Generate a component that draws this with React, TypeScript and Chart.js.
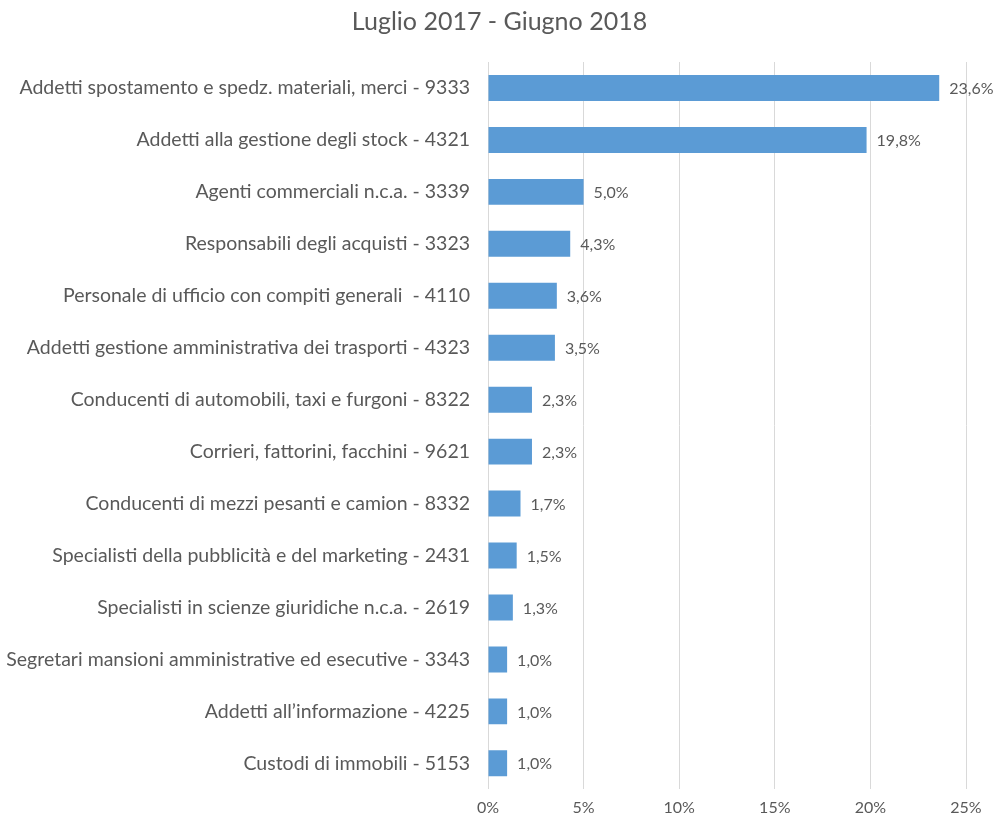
import React, { useEffect, useRef } from "react";
import { Chart, registerables } from "chart.js";

Chart.register(...registerables);

const categories: string[] = [
  "Addetti spostamento e spedz. materiali, merci - 9333",
  "Addetti alla gestione degli stock - 4321",
  "Agenti commerciali n.c.a. - 3339",
  "Responsabili degli acquisti - 3323",
  "Personale di ufficio con compiti generali  - 4110",
  "Addetti gestione amministrativa dei trasporti - 4323",
  "Conducenti di automobili, taxi e furgoni - 8322",
  "Corrieri, fattorini, facchini - 9621",
  "Conducenti di mezzi pesanti e camion - 8332",
  "Specialisti della pubblicità e del marketing - 2431",
  "Specialisti in scienze giuridiche n.c.a. - 2619",
  "Segretari mansioni amministrative ed esecutive - 3343",
  "Addetti all’informazione - 4225",
  "Custodi di immobili - 5153",
];

const values: number[] = [23.6, 19.8, 5.0, 4.3, 3.6, 3.5, 2.3, 2.3, 1.7, 1.5, 1.3, 1.0, 1.0, 1.0];

const xTicks: number[] = [0, 5, 10, 15, 20, 25];

const titleText = "Luglio 2017 - Giugno 2018";

const FONT = "Lato, 'Open Sans', sans-serif";
const TEXT = "#595959";
const BAR = "#5b9bd5";
const GRID = "#d9d9d9";

const fmt = (v: number) => v.toFixed(1).replace(".", ",") + "%";

const valueLabels = {
  id: "valueLabels",
  afterDatasetsDraw(chart: any) {
    const ctx = chart.ctx;
    const meta = chart.getDatasetMeta(0);
    ctx.save();
    ctx.font = `16px ${FONT}`;
    ctx.fillStyle = TEXT;
    ctx.textAlign = "left";
    ctx.textBaseline = "middle";
    meta.data.forEach((bar: any, i: number) => {
      ctx.fillText(fmt(values[i]), bar.x + 10, bar.y + 1);
    });
    // centered title across the full canvas width
    ctx.font = `25px ${FONT}`;
    ctx.textAlign = "center";
    ctx.fillText(titleText, chart.width / 2, 22);
    ctx.restore();
  },
};

export default function App() {
  const ref = useRef<HTMLCanvasElement>(null);
  useEffect(() => {
    if (!ref.current) return;
    const chart = new Chart(ref.current, {
      type: "bar",
      data: {
        labels: categories,
        datasets: [
          {
            data: values,
            backgroundColor: BAR,
            borderWidth: 0,
            categoryPercentage: 1,
            barPercentage: 0.5,
          },
        ],
      },
      options: {
        indexAxis: "y",
        animation: false,
        responsive: false,
        layout: { padding: { left: 0, right: 33, top: 62, bottom: 0 } },
        plugins: {
          legend: { display: false },
          tooltip: { enabled: false },
          title: { display: false },
        },
        scales: {
          y: {
            grid: { display: false, drawTicks: false },
            border: { display: false },
            ticks: {
              color: TEXT,
              font: { family: FONT, size: 19.5 },
              padding: 18,
              autoSkip: false,
            },
            afterFit: (s: any) => {
              s.width = 488;
            },
          },
          x: {
            min: 0,
            max: 25,
            afterBuildTicks: (s: any) => {
              s.ticks = xTicks.map((v) => ({ value: v }));
            },
            grid: { color: GRID, lineWidth: 1, drawTicks: false },
            border: { display: false },
            ticks: {
              color: TEXT,
              font: { family: FONT, size: 16 },
              padding: 9,
              callback: (v: any) => v + "%",
            },
            afterFit: (s: any) => {
              s.height = 29;
            },
          },
        },
      },
      plugins: [valueLabels],
    });
    return () => chart.destroy();
  }, []);
  return (
    <div style={{ position: "absolute", left: 0, top: 0, width: 999, height: 819, background: "#fff" }}>
      <canvas ref={ref} width={999} height={819} style={{ display: "block" }} />
    </div>
  );
}
